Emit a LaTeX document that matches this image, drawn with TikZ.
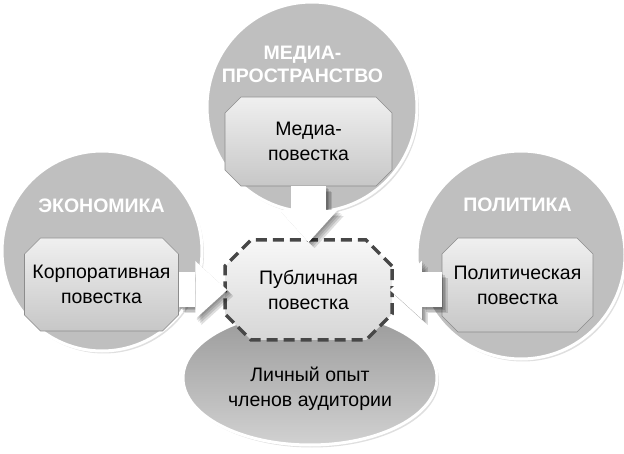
\documentclass[tikz,border=0pt]{standalone}
\usepackage{fontspec}
\setmainfont{Liberation Sans}
\usetikzlibrary{arrows.meta, positioning, shapes.geometric, shapes.misc, shadows}
\tikzset{
  sphere/.style={circle, draw=white, line width=3pt, fill=black!25,
                 minimum size=#1, inner sep=0pt,
                 drop shadow={shadow xshift=2pt, shadow yshift=-2.5pt, opacity=0.25}},
  crowd/.style={ellipse, draw=white, line width=3pt,
                top color=black!40, bottom color=black!18,
                minimum width=254pt, minimum height=134pt,
                drop shadow={shadow xshift=2pt, shadow yshift=-2.5pt, opacity=0.25}},
  agenda/.style={chamfered rectangle, chamfered rectangle xsep=8pt,
                 chamfered rectangle ysep=8pt, draw=black!45, line width=0.6pt,
                 top color=black!6, bottom color=black!22, inner sep=0pt,
                 font=\fontsize{19.5}{25}\selectfont, align=center},
  hub/.style={agenda, chamfered rectangle xsep=13pt, chamfered rectangle ysep=13pt,
              draw=black!72, line width=3.5pt, dash pattern=on 11pt off 6pt,
              top color=black!3, bottom color=black!16},
  ttl/.style={font=\fontsize{19.5}{23}\selectfont\bfseries, text=white,
              align=center, inner sep=0pt},
  txt/.style={font=\fontsize{19.5}{25}\selectfont, align=center, inner sep=0pt},
  flow/.style={line width=35pt, draw=white, shorten >=-4pt,
               -{Triangle[length=32pt, width=58pt, line width=0pt]}},
  flowshade/.style={flow, draw=black, opacity=0.13,
                    transform canvas={shift={(#1pt,-#1pt)}}},
}
\begin{document}
\begin{tikzpicture}[x=1pt, y=-1pt]
  \useasboundingbox (0,0) rectangle (624,454);
  %% Spheres
  \node[sphere=210pt] (med) at (312,107) {};
  \node[sphere=200pt] (eco) at (102,251) {};
  \node[sphere=208pt] (pol) at (521,255) {};
  %% Audience and public agenda
  \node[crowd] (aud) at (310,378) {};
  \node[txt] (audt) at ([yshift=-11pt]aud.center) {Личный опыт\\членов аудитории};
  \node[hub, minimum width=167pt, minimum height=100pt] (pub) at (308.5,290)
    {Публичная\\повестка};
  %% Agendas inside the spheres
  \node[agenda, minimum width=167pt, minimum height=89pt] (medbox) at (308.5,141.5)
    {Медиа-\\повестка};
  \node[agenda, minimum width=147pt, minimum height=93pt] (corp) at (101.5,284.5)
    {Корпоративная\\повестка};
  \node[agenda, minimum width=151pt, minimum height=94pt] (polbox) at (517.5,285)
    {Политическая\\повестка};
  \node[ttl, above=14pt of medbox, xshift=-6pt] (medt) {МЕДИА-\\ПРОСТРАНСТВО};
  \node[ttl, above=25pt of corp] (ecot) {ЭКОНОМИКА};
  \node[ttl, above=26pt of polbox] (polt) {ПОЛИТИКА};
  %% Flows into the public agenda
  \foreach \a/\b in {medbox.south/pub.north, corp.east |- pub/pub.west,
                     polbox.west |- pub/pub.east}{
    \foreach \s in {1.5,3,4.5,6}
      \draw[flowshade=\s] (\a) -- (\b);
    \draw[flow] (\a) -- (\b);
  }
\end{tikzpicture}
\end{document}
